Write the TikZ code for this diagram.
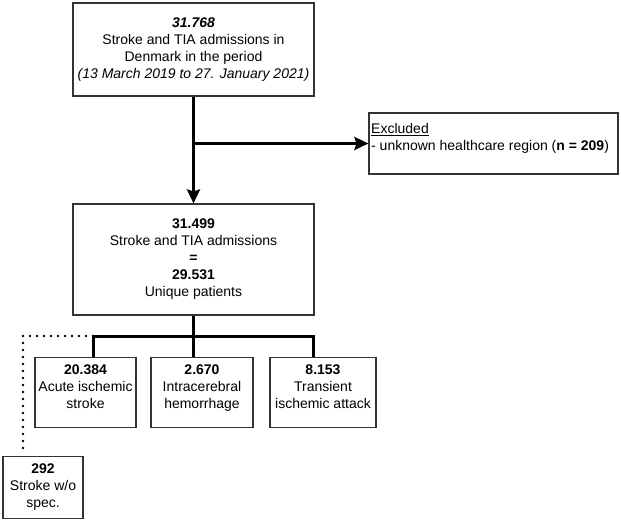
\documentclass[tikz,border=0pt]{standalone}
\usepackage{fontspec}
\setmainfont{Liberation Sans}
\usetikzlibrary{arrows.meta}
\begin{document}
\begin{tikzpicture}[x=1pt,y=-1pt,
  txt/.style={font={\fontsize{14}{17}\selectfont}, inner sep=0pt},
  box/.style={draw=black!80, line width=1.1pt, inner sep=0pt, align=center, txt},
  conn/.style={line width=3pt, black},
  tip/.style={-{Stealth[length=14pt,width=13pt,inset=2pt]}},
  dots/.style={line width=2.6pt, line cap=round, dash pattern=on 0pt off 7pt}]
\useasboundingbox (0,0) rectangle (621,520);
% main boxes
\node[box, minimum width=241, minimum height=93] (top) at (193.5,49.5)
  {\textbf{\textit{31.768}}\\Stroke and TIA admissions in\\Denmark in the period\\\textit{(13 March 2019 to 27. January 2021)}};
\node[box, minimum width=241, minimum height=111] (mid) at (193.5,259.5)
  {\textbf{31.499}\\Stroke and TIA admissions\\\textbf{=}\\\textbf{29.531}\\Unique patients};
\node[box, minimum width=249, minimum height=61] (excl) at (493.5,143.5) {};
\node[txt, anchor=north west, align=left] (exclt) at (371,123)
  {\underline{Excluded}\\- unknown healthcare region (\textbf{n = 209})};
% bottom boxes
\node[box, minimum width=101, minimum height=70, anchor=north] (b1) at (85.5,357) {};
\node[box, minimum width=102, minimum height=70, anchor=north] (b2) at (202,357) {};
\node[box, minimum width=106, minimum height=70, anchor=north] (b3) at (323,357) {};
\node[box, minimum width=80, minimum height=62, anchor=north] (b0) at (43,456) {};
\node[txt, align=center, anchor=north] (b1t) at ([yshift=-8pt]b1.north) {\textbf{20.384}\\Acute ischemic\\stroke};
\node[txt, align=center, anchor=north] (b2t) at ([yshift=-8pt]b2.north) {\textbf{2.670}\\Intracerebral\\hemorrhage};
\node[txt, align=center, anchor=north] (b3t) at ([yshift=-8pt]b3.north) {\textbf{8.153}\\Transient\\ischemic attack};
\node[txt, align=center, anchor=north] (b0t) at ([yshift=-8pt]b0.north) {\textbf{292}\\Stroke w/o\\spec.};
% connectors
\draw[conn, tip] (top.south) -- (mid.north);
\draw[conn, tip] (top.south |- excl.west) -- (excl.west);
\coordinate (busL) at (93,336);
\coordinate (busR) at (313,336);
\coordinate (dotc) at (23,336);
\draw[conn] (mid.south) -- (mid.south |- b2.north);
\draw[conn] (b1.north -| busL) -- (busL) -- (busR) -- (b3.north -| busR);
\draw[dots] (busL) -- (dotc) -- ([yshift=3pt]dotc |- b0.north);
\end{tikzpicture}
\end{document}
